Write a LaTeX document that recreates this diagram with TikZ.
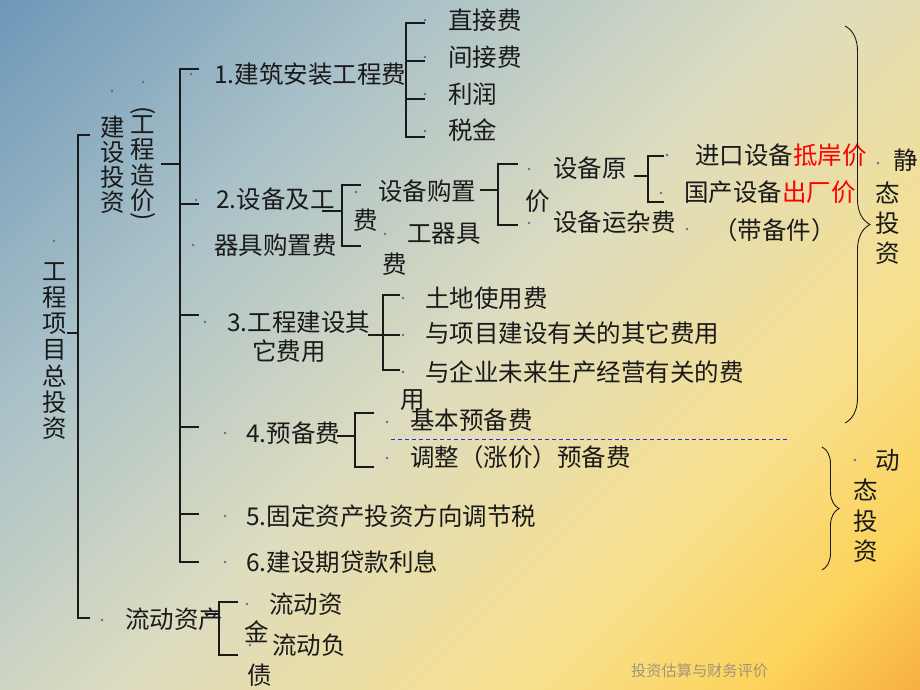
\documentclass[tikz,border=0pt]{standalone}
\usepackage{fontspec}
\setmainfont{Noto Sans CJK SC}
\usetikzlibrary{decorations.pathreplacing}
\definecolor{bgA}{HTML}{6E98B8}
\definecolor{bgF}{HTML}{A8C0C8}
\definecolor{bgB}{HTML}{DCDCC0}
\definecolor{bgC}{HTML}{F8E08E}
\definecolor{bgD}{HTML}{FCD35A}
\definecolor{bgE}{HTML}{F7B040}
\definecolor{dotc}{HTML}{5A6E9E}
\definecolor{inkc}{HTML}{1A1A1A}
\definecolor{footc}{HTML}{A09478}
\definecolor{dashc}{HTML}{2A2AE8}
\pgfdeclareverticalshading{slidebg}{100bp}{color(0bp)=(bgE); color(14.6bp)=(bgE); color(21.7bp)=(bgD); color(32.3bp)=(bgC); color(50bp)=(bgB); color(67.7bp)=(bgF); color(85.4bp)=(bgA); color(100bp)=(bgA)}

\begin{document}
\begin{tikzpicture}[x = 1pt, y = -1pt,
	txt/.style = {anchor = west, inner sep = 0pt, text = inkc, font = \fontsize{24.5}{26}\selectfont},
	chr/.style = {inner sep = 0pt, text = inkc, font = \fontsize{24.5}{26}\selectfont},
	vtxt/.style = {inner sep = 0pt, text = inkc, align = center, font = \fontsize{24.5}{#1}\selectfont},
	brk/.style = {draw = inkc, line width = 1.4pt},
	brace/.style = {draw = inkc, line width = 0.9pt, decorate, decoration = {brace, amplitude = #1}}]
		\useasboundingbox (0,0) rectangle (920,690);
		\shade[shading = slidebg, shading angle = 45] (0,0) rectangle (920,690);

		\node[vtxt = 26.3] (total) at (55,351) {工\\程\\项\\目\\总\\投\\资};
		\node[vtxt = 25] (jstz) at (113,164.5) {建\\设\\投\\资};
		\node[vtxt = 25.5] (gczj) at (143,163.5) {工\\程\\造\\价};
		\node[chr, rotate = -90] (lpar) at (143,111) {(};
		\node[chr, rotate = -90] (rpar) at (143,217) {)};

		\node[txt] (fee1) at (214,74) {1.建筑安装工程费};
		\node[txt] (fee2) at (216,199) {2.设备及工};
		\node[txt] (fee2b) at (214,245) {器具购置费};
		\node[txt] (fee3) at (227,322) {3.工程建设其};
		\node[txt] (fee3b) at (252,351) {它费用};
		\node[txt] (fee4) at (246,433) {4.预备费};
		\node[txt] (fee5) at (246,516) {5.固定资产投资方向调节税};
		\node[txt] (fee6) at (246,562) {6.建设期贷款利息};

		\node[txt] (zjf) at (448,20) {直接费};
		\node[txt] (jjf) at (448,57) {间接费};
		\node[txt] (lr) at (448,94) {利润};
		\node[txt] (sj) at (448,130) {税金};

		\node[chr] (fei1) at (366,220) {费};
		\node[txt] (sbgz) at (378,191) {设备购置};
		\node[txt] (gqj) at (407,234) {工器具};
		\node[chr] (fei2) at (395,264) {费};
		\node[txt] (sby) at (553,168) {设备原};
		\node[chr] (jia) at (538,201) {价};
		\node[txt] (sbyz) at (553,222) {设备运杂费};
		\node[txt] (jksb) at (695,155) {进口设备\textcolor{red}{抵岸价}};
		\node[txt] (gcsb) at (684,192) {国产设备\textcolor{red}{出厂价}};
		\node[txt] (dbj) at (713,230) {（带备件）};

		\node[txt] (tdsy) at (425,298) {土地使用费};
		\node[txt] (xmjs) at (425,333) {与项目建设有关的其它费用};
		\node[txt] (qywl) at (425,372) {与企业未来生产经营有关的费};
		\node[chr] (yong) at (413,400) {用};

		\node[txt] (jbyb) at (410,420) {基本预备费};
		\node[txt] (tzyb) at (410,457) {调整（涨价）预备费};

		\node[txt] (ldzc) at (125,619) {流动资产};
		\node[txt] (ldz) at (269,604) {流动资};
		\node[chr] (jin) at (257,632) {金};
		\node[txt] (ldf) at (272,645) {流动负};
		\node[chr] (zhai) at (260,675) {债};

		\node[chr] (jing) at (906,160) {静};
		\node[vtxt = 30] (jtz) at (888,223) {态\\投\\资};
		\node[chr] (dong) at (888,460) {动};
		\node[vtxt = 30.5] (dtz) at (866,521) {态\\投\\资};

		\node[anchor = west, inner sep = 0pt, text = footc, font = \fontsize{15.2}{16}\selectfont] (foot) at (631,671) {投资估算与财务评价};

		\foreach \p in {(54,241), (112,91), (143,82), (191,74), (196,200), (193,245), (205,322), (225,433), (225,516), (225,562), (425,20), (425,57), (425,94), (425,131), (356,192), (385,234), (529,169), (529,223), (687,229), (667,155), (661,193), (878,163), (403,298), (403,335), (403,372), (387,422), (387,458), (102,620), (247,604), (250,645), (855,460)}
			\fill[dotc] \p circle (1.4);

		\draw[brk] (90,135) -- (78,135) -- (78,618) -- (90,618);
		\draw[brk] (67,333) -- (78,333);
		\draw[brk] (161,164) -- (180,164);
		\draw[brk] (199,69) -- (180,69) -- (180,562) -- (199,562);
		\draw[brk] (180,204) -- (199,204);
		\draw[brk] (180,315) -- (199,315);
		\draw[brk] (180,427) -- (199,427);
		\draw[brk] (180,514) -- (199,514);
		\draw[brk] (425,23) -- (406,23) -- (406,137) -- (425,137);
		\draw[brk] (406,61) -- (425,61);
		\draw[brk] (406,99) -- (425,99);
		\draw[brk] (322,211) -- (342,211);
		\draw[brk] (361,185) -- (342,185) -- (342,246) -- (361,246);
		\draw[brk] (480,190) -- (498,190);
		\draw[brk] (518,164) -- (498,164) -- (498,225) -- (518,225);
		\draw[brk] (634,176) -- (648,176);
		\draw[brk] (664,156) -- (648,156) -- (648,202) -- (664,202);
		\draw[brk] (368,335) -- (400,335);
		\draw[brk] (400,295) -- (383,295) -- (383,370) -- (400,370);
		\draw[brk] (337,436) -- (355,436);
		\draw[brk] (374,413) -- (355,413) -- (355,467) -- (374,467);
		\draw[brk] (205,614) -- (219,614);
		\draw[brk] (238,602) -- (219,602) -- (219,655) -- (238,655);

		\draw[dashc, line width = 1pt, dash pattern = on 4pt off 3pt] (391,439) -- (790,439);

		\draw[brace = 25] (845,26) -- (845,423);
		\draw[brace = 17] (822,447) -- (822,570);
	\end{tikzpicture}
\end{document}
